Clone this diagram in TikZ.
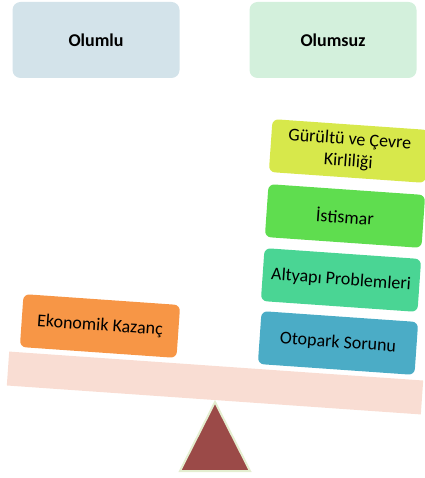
\documentclass[tikz,border=0pt]{standalone}
\usepackage{fontspec}
\setmainfont{Carlito}

\definecolor{olumlu}{HTML}{D3E3EA}
\definecolor{olumsuz}{HTML}{D3F0DC}
\definecolor{turuncu}{HTML}{F79646}
\definecolor{mavi}{HTML}{4BACC6}
\definecolor{yesil}{HTML}{4AD594}
\definecolor{parlak}{HTML}{5FDD4F}
\definecolor{sari}{HTML}{D7E84B}
\definecolor{tahta}{HTML}{F9DDD3}
\definecolor{ucgen}{HTML}{9B4A48}
\definecolor{kenar}{HTML}{E4EED0}

\tikzset{
    baslik/.style={rounded corners=8pt, minimum width=167pt, minimum height=76pt,
        font=\fontsize{18}{21}\selectfont\bfseries},
    kutu/.style={rounded corners=6pt, minimum width=157pt, minimum height=53pt,
        rotate=-4, align=center, font=\fontsize{18}{22}\selectfont}
}

\begin{document}
\begin{tikzpicture}[x=1pt, y=-1pt]
            \useasboundingbox (0,0) rectangle (424,478);

            % basliklar
            \node[baslik, fill=olumlu] (olumlu) at (96,40) {Olumlu};
            \node[baslik, fill=olumsuz] (olumsuz) at (333,40) {Olumsuz};

            % terazi
            \node[fill=tahta, minimum width=415pt, minimum height=34pt, rotate=-4] (tahta) at (215,383) {};
            \filldraw[ucgen, draw=kenar, line width=2pt] (180,471) -- (215,402) -- (250,471) -- cycle;

            % sol kefe
            \node[kutu, fill=turuncu] (ekonomik) at (100,326) {Ekonomik Kazanç};

            % sag kefe
            \node[kutu, fill=mavi] (otopark) at (338,343) {Otopark Sorunu};
            \node[kutu, fill=yesil] (altyapi) at (341,280) {Altyapı Problemleri};
            \node[kutu, fill=parlak] (istismar) at (345,216) {İstismar};
            \node[kutu, fill=sari] (gurultu) at (349,151) {Gürültü ve Çevre\\Kirliliği};
        \end{tikzpicture}
\end{document}
